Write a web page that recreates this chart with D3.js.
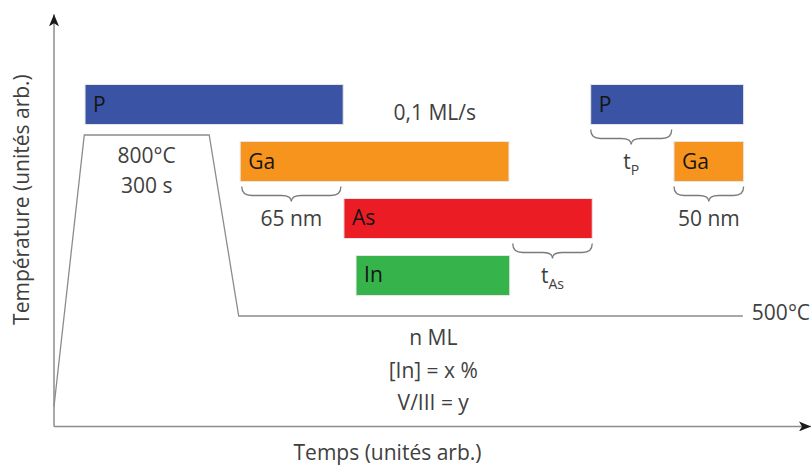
<!DOCTYPE html>
<meta charset="utf-8">
<style>
    body { margin: 0; background: #fff; }
    text { font-family: "Open Sans", sans-serif; }
    .note { fill: #404040; font-size: 21px; }
    .bar-label { fill: #151515; font-size: 21px; }
    .bar { stroke: #e6e6e6; stroke-width: 1; }
    .axis line { stroke: #8c8c8c; stroke-width: 1.5; }
    .profile { fill: none; stroke: #8c8c8c; stroke-width: 1.3; }
    .brace { fill: none; stroke: #7a7a7a; stroke-width: 1.3; }
</style>
<svg width="811" height="466"></svg>
<script src="https://cdn.jsdelivr.net/npm/d3@7"></script>
<script>

    // ---- data (arbitrary time units 0..100, temperature in °C) ----
    var rows = ["P", "Ga", "As", "In"];

    var bars = [
        {species: "P",  start: 4.1,  end: 38.2, color: "#3a53a4"},
        {species: "Ga", start: 24.6, end: 60.1, color: "#f7941e"},
        {species: "As", start: 38.3, end: 71.1, color: "#ec1c24"},
        {species: "In", start: 39.9, end: 60.2, color: "#36b34a"},
        {species: "P",  start: 70.9, end: 91.1, color: "#3a53a4"},
        {species: "Ga", start: 81.9, end: 91.1, color: "#f7941e"}
    ];

    // temperature profile: time, temperature
    var profileTimes = [0, 4.0, 20.5, 24.4, 91.0];
    var profileTemps = [350, 800, 800, 500, 500];

    // braces under bars: from, to, row they hang under, label, subscript
    var braces = [
        {from: 24.8, to: 37.9, row: "Ga", label: "65 nm", sub: ""},
        {from: 60.6, to: 71.1, row: "As", label: "t", sub: "As"},
        {from: 70.9, to: 81.6, row: "P",  label: "t", sub: "P"},
        {from: 81.9, to: 91.1, row: "Ga", label: "50 nm", sub: ""}
    ];

    var plateauNotes = ["800°C", "300 s"];
    var growthNotes = ["n ML", "[In] = x %", "V/III = y"];
    var rateNote = "0,1 ML/s";
    var lowTempNote = "500°C";

    var svg = d3.select("svg");

    var x = d3.scaleLinear().domain([0, 100]).range([54, 811]);
    var y = d3.scaleLinear().domain([500, 800]).range([316, 135]);
    var row = d3.scaleBand().domain(rows).range([84.5, 295.5]).paddingInner(0.298);

    // arrow heads
    var defs = svg.append("defs");
    defs.append("marker")
        .attr("id", "arrow")
        .attr("viewBox", "0 0 12 10")
        .attr("refX", 12).attr("refY", 5)
        .attr("markerWidth", 12).attr("markerHeight", 10)
        .attr("markerUnits", "userSpaceOnUse")
        .attr("orient", "auto")
        .append("path")
        .attr("d", "M0,0 L12,5 L0,10 L3,5 Z")
        .attr("fill", "#1a1a1a");

    // axes
    var axis = svg.append("g").attr("class", "axis");
    axis.append("line")
        .attr("x1", x(0)).attr("y1", y(317))
        .attr("x2", x(0)).attr("y2", y(1000))
        .attr("marker-end", "url(#arrow)");
    axis.append("line")
        .attr("x1", x(0)).attr("y1", y(317))
        .attr("x2", x(100)).attr("y2", y(317))
        .attr("marker-end", "url(#arrow)");

    svg.append("text")
        .attr("class", "note")
        .attr("x", (x(0) + x(100)) / 2 - 45)
        .attr("y", 460)
        .attr("text-anchor", "middle")
        .text("Temps (unités arb.)");

    svg.append("text")
        .attr("class", "note")
        .attr("transform", "translate(29," + y(693) + ") rotate(-90)")
        .attr("text-anchor", "middle")
        .text("Température (unités arb.)");

    // temperature profile
    var line = d3.line()
        .x(function (d) { return x(d[0]); })
        .y(function (d) { return y(d[1]); });
    svg.append("path")
        .attr("class", "profile")
        .attr("d", line(d3.zip(profileTimes, profileTemps)));

    // bars
    var barG = svg.append("g")
        .selectAll("g")
        .data(bars)
        .enter()
        .append("g");

    barG.append("rect")
        .attr("class", "bar")
        .attr("x", function (d) { return x(d.start); })
        .attr("y", function (d) { return row(d.species); })
        .attr("width", function (d) { return x(d.end) - x(d.start); })
        .attr("height", row.bandwidth())
        .attr("fill", function (d) { return d.color; });

    barG.append("text")
        .attr("class", "bar-label")
        .attr("x", function (d) { return x(d.start) + 8; })
        .attr("y", function (d) { return row(d.species) + row.bandwidth() / 2 + 7; })
        .text(function (d) { return d.species; });

    // braces
    var braceDepth = 15;
    var braceGap = 5;
    var bracePath = function (x0, x1, y0) {
        var xm = (x0 + x1) / 2, h = braceDepth, r = 10;
        return "M" + x0 + "," + y0 +
            " Q" + x0 + "," + (y0 + h * 0.6) + " " + (x0 + r) + "," + (y0 + h * 0.6) +
            " L" + (xm - r) + "," + (y0 + h * 0.6) +
            " Q" + xm + "," + (y0 + h * 0.6) + " " + xm + "," + (y0 + h) +
            " Q" + xm + "," + (y0 + h * 0.6) + " " + (xm + r) + "," + (y0 + h * 0.6) +
            " L" + (x1 - r) + "," + (y0 + h * 0.6) +
            " Q" + x1 + "," + (y0 + h * 0.6) + " " + x1 + "," + y0;
    };

    var braceG = svg.append("g")
        .selectAll("g")
        .data(braces)
        .enter()
        .append("g");

    braceG.append("path")
        .attr("class", "brace")
        .attr("d", function (d) {
            return bracePath(x(d.from), x(d.to), row(d.row) + row.bandwidth() + braceGap);
        });

    var braceText = braceG.append("text")
        .attr("class", "note")
        .attr("x", function (d) { return (x(d.from) + x(d.to)) / 2; })
        .attr("y", function (d) { return row(d.row) + row.bandwidth() + braceGap + braceDepth + 24; })
        .attr("text-anchor", "middle");
    braceText.append("tspan").text(function (d) { return d.label; });
    braceText.append("tspan")
        .attr("dy", 6)
        .style("font-size", "14px")
        .text(function (d) { return d.sub; });

    // annotations
    var plateauMid = (x(profileTimes[1]) + x(profileTimes[2])) / 2;
    svg.append("g")
        .selectAll("text")
        .data(plateauNotes)
        .enter()
        .append("text")
        .attr("class", "note")
        .attr("x", plateauMid)
        .attr("y", function (d, i) { return y(800) + 28 + i * 30; })
        .attr("text-anchor", "middle")
        .text(function (d) { return d; });

    svg.append("g")
        .selectAll("text")
        .data(growthNotes)
        .enter()
        .append("text")
        .attr("class", "note")
        .attr("x", x(50.1))
        .attr("y", function (d, i) { return y(500) + 29 + i * 32.5; })
        .attr("text-anchor", "middle")
        .text(function (d) { return d; });

    svg.append("text")
        .attr("class", "note")
        .attr("x", x(50.3))
        .attr("y", row("P") + row.bandwidth() / 2 + 15)
        .attr("text-anchor", "middle")
        .text(rateNote);

    svg.append("text")
        .attr("class", "note")
        .attr("x", x(profileTimes[4]) + 9)
        .attr("y", y(500) + 4)
        .text(lowTempNote);

</script>
